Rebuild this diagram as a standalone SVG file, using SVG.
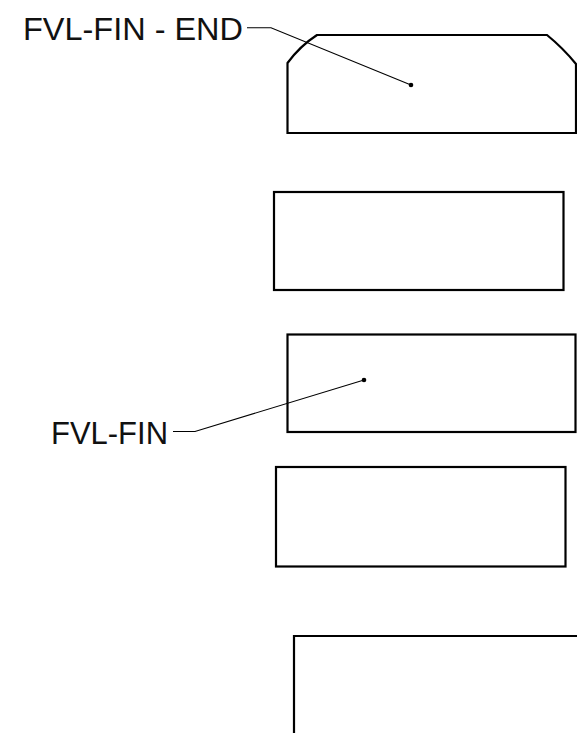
<svg xmlns="http://www.w3.org/2000/svg" width="577" height="733" viewBox="0 0 577 733">
<style>
.shape{fill:none;stroke:#000;stroke-width:2.2;stroke-linejoin:miter}
.leader{fill:none;stroke:#000;stroke-width:1.1}
.dot{fill:#000}
.lbl{font-family:"Liberation Sans",Arial,sans-serif;font-size:32px;fill:#111}
</style>
<rect width="577" height="733" fill="#fff"/>
<g id="fvl-fin-end">
<path class="shape" d="M287.5,133 L287.5,63 Q300,46 317,35 L547,35 Q563,48 576,64 L576,133 Z"/>
</g>
<g id="plate-2">
<rect class="shape" x="274" y="192" width="289.5" height="98"/>
</g>
<g id="fvl-fin">
<rect class="shape" x="287.5" y="334.5" width="288" height="97.5"/>
</g>
<g id="plate-4">
<rect class="shape" x="276" y="467" width="289.5" height="99.5"/>
</g>
<g id="plate-5">
<path class="shape" d="M294,735 L294,636 L578,636"/>
</g>
<g id="labels">
<text class="lbl" x="23" y="40" textLength="220" lengthAdjust="spacingAndGlyphs">FVL-FIN - END</text>
<text class="lbl" x="51" y="444" textLength="117" lengthAdjust="spacingAndGlyphs">FVL-FIN</text>
</g>
<g id="connectors">
<polyline class="leader" points="247,27.7 271,27.7 411,85"/>
<circle class="dot" cx="411" cy="85" r="2.3"/>
<polyline class="leader" points="173,431.5 195,431.5 364,380"/>
<circle class="dot" cx="364" cy="380" r="2.3"/>
</g>
</svg>
